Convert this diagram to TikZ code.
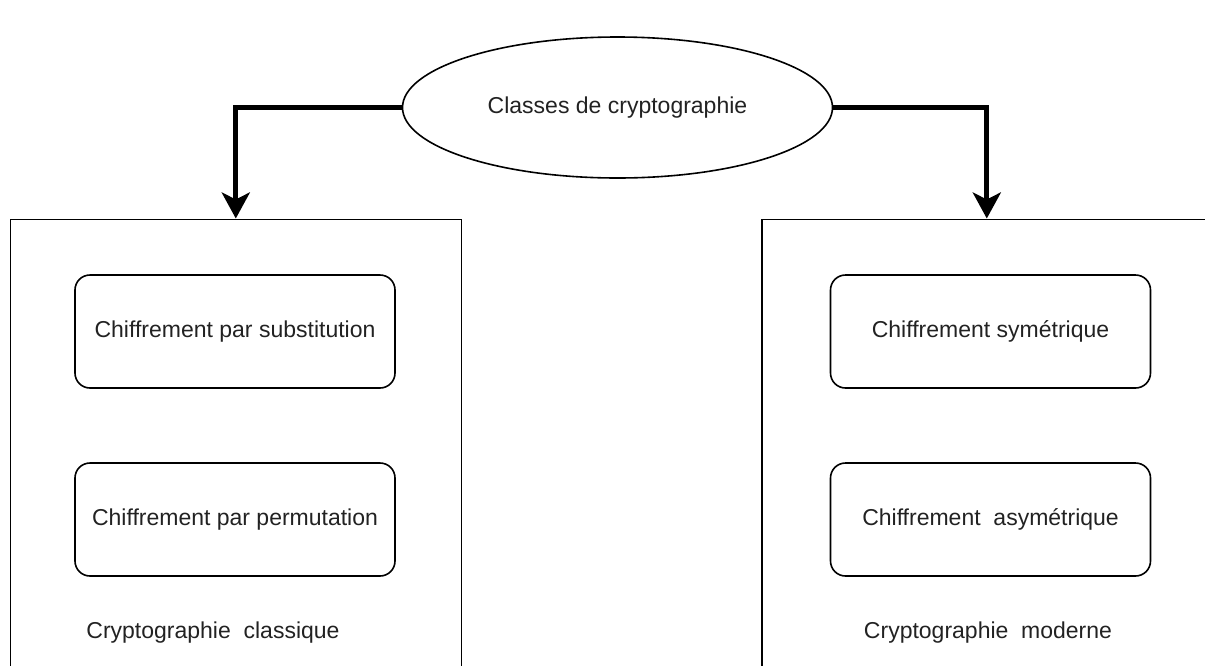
\documentclass[tikz,border=0pt]{standalone}
\usepackage{fontspec}
\setmainfont{Liberation Sans}
\usetikzlibrary{arrows.meta,shapes.geometric}
\definecolor{ink}{HTML}{222222}
\begin{document}
\begin{tikzpicture}[x=1pt,y=-1pt,
  every node/.style={font=\fontsize{23}{27}\selectfont, text=ink},
  rootnode/.style={draw, ellipse, line width=1.6pt, minimum width=430pt, minimum height=141pt, inner sep=0pt},
  groupbox/.style={draw, line width=1.6pt, anchor=north west, inner sep=0pt},
  itembox/.style={draw, line width=1.6pt, rounded corners=15pt, minimum width=320pt, minimum height=113pt, inner sep=0pt},
  conn/.style={line width=5pt, line join=miter, -{Stealth[length=26pt,width=28pt,inset=7pt]}}
]
\useasboundingbox (0,0) rectangle (1205,665);
\clip (0,0) rectangle (1205,665);

% top-level class
\node[rootnode] (root) at (617.5,107.5) {Classes de cryptographie};

% the two families (extend past the page bottom / right edge)
\node[groupbox, minimum width=451pt, minimum height=500pt] (classic) at (9.5,218.5) {};
\node[groupbox, minimum width=450pt, minimum height=500pt] (modern) at (761,218.5) {};

% classical methods
\node[itembox] (subst) at (235,331.5) {Chiffrement par substitution};
\node[itembox] (perm)  at (235,519.5) {Chiffrement par permutation};
\node (classiclbl) at (213,633) {Cryptographie\ \ classique};

% modern methods
\node[itembox] (sym)  at (990.5,331.5) {Chiffrement symétrique};
\node[itembox] (asym) at (990.5,519.5) {Chiffrement\ \ asymétrique};
\node (modernlbl) at (988,633) {Cryptographie\ \ moderne};

% connectors
\draw[conn] (root.west) -| (classic.north);
\draw[conn] (root.east) -| (modern.north);
\end{tikzpicture}
\end{document}
